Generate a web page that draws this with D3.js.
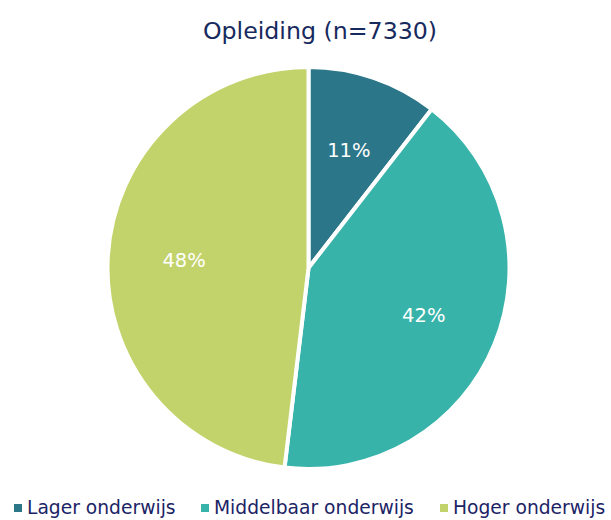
<!DOCTYPE html>
<html><head><meta charset="utf-8">
<script src="https://cdn.jsdelivr.net/npm/d3@7"></script>
<style>body{margin:0;background:#fff}</style>
</head><body>
<svg id="chart" width="611" height="520"></svg>
<script>
const title = "Opleiding (n=7330)";
const categories = ["Lager onderwijs", "Middelbaar onderwijs", "Hoger onderwijs"];
const values = [10.5, 41.4, 48.1];
const labels = ["11%", "42%", "48%"];
const colors = ["#2b7689", "#38b3aa", "#c3d36b"];

const svg = d3.select("#chart");
const cx = 308.5, cy = 268, R = 201;
const font = "Tahoma, 'DejaVu Sans', Verdana, sans-serif";

svg.append("text").attr("x", 320).attr("y", 39).attr("text-anchor", "middle")
  .attr("font-family", font).attr("font-size", 23.7).attr("fill", "#172a5e").text(title);

const pie = d3.pie().sort(null).value(d => d)(values);
const arc = d3.arc().innerRadius(0).outerRadius(R);
const labelArc = d3.arc().innerRadius(R * 0.62).outerRadius(R * 0.62);
const g = svg.append("g").attr("transform", `translate(${cx},${cy})`);
g.selectAll("path").data(pie).join("path")
  .attr("d", arc).attr("fill", (d, i) => colors[i])
  .attr("stroke", "#fff").attr("stroke-width", 4).attr("stroke-linejoin", "round");
g.selectAll("text").data(pie).join("text")
  .attr("transform", d => `translate(${labelArc.centroid(d)})`)
  .attr("text-anchor", "middle").attr("dy", "0.35em")
  .attr("font-family", font).attr("font-size", 19.5).attr("fill", "#fff")
  .text((d, i) => labels[i]);

// legend
const legend = svg.append("g").attr("font-family", font).attr("font-size", 18.7);
const xs = [14, 201, 440];
categories.forEach((c, i) => {
  const lg = legend.append("g").attr("transform", `translate(${xs[i]},507)`);
  lg.append("rect").attr("x", 0).attr("y", -3).attr("width", 8).attr("height", 8).attr("fill", colors[i]);
  lg.append("text").attr("x", 13).attr("y", 0).attr("dy", "0.35em").attr("fill", "#1c2466").text(c);
});
</script>
</body></html>
